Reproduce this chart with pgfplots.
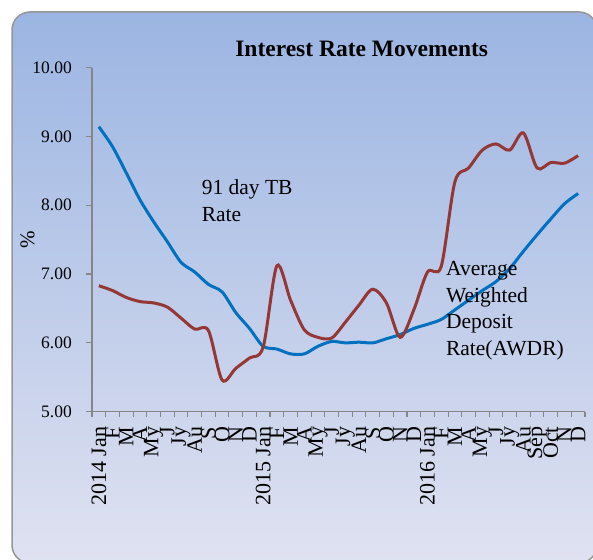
\documentclass[border=0pt]{standalone}
\usepackage{fontspec}
\setmainfont{Liberation Serif}
\usepackage{pgfplots}
\pgfplotsset{compat=1.18}
\definecolor{bgtop}{RGB}{155,181,226}
\definecolor{bgmid}{RGB}{232,187,189}
\definecolor{bgbot}{RGB}{224,226,241}
\definecolor{tbblue}{RGB}{0,112,192}
\definecolor{awred}{RGB}{149,55,53}
\definecolor{axgray}{RGB}{134,134,134}
\definecolor{framegray}{RGB}{150,150,150}
\begin{document}
\begin{tikzpicture}
\useasboundingbox (0pt,0pt) rectangle (593pt,-559pt);
\path[draw=framegray, line width=1.5pt, rounded corners=18pt,
  top color=bgtop, middle color=bgmid, bottom color=bgbot]
  (12pt,-12pt) rectangle (597pt,-563pt);
\node[anchor=base, font=\fontsize{23.5}{28}\selectfont\bfseries] at (361.7pt,-56.5pt) {Interest Rate Movements};
\begin{axis}[
  at={(92pt,-411.7pt)}, anchor=south west,
  scale only axis, width=493pt, height=344.2pt,
  xmin=-0.5, xmax=35.5, ymin=5, ymax=10,
  axis x line=bottom, axis y line=left,
  axis line style={-, draw=axgray, line width=1.3pt},
  tick align=outside,
  xtick={0,...,35},
  major x tick style={draw=none},
  minor xtick={-0.5,0.5,...,35.5},
  minor x tick style={draw=axgray, line width=1.1pt},
  minor tick length=5pt,
  ytick={5,6,7,8,9,10},
  major y tick style={draw=axgray, line width=1.1pt},
  major tick length=6pt,
  xticklabels={2014 Jan,F,M,A,My,J,Jy,Au,S,O,N,D,2015 Jan,F,M,A,My,J,Jy,Au,S,O,N,D,2016 Jan,F,M,A,My,J,Jy,Au,Sep,Oct,N,D},
  xticklabel style={rotate=90, anchor=east, font=\fontsize{22}{25}\selectfont, inner sep=2pt, xshift=-7pt},
  yticklabel style={font=\fontsize{17.5}{21}\selectfont, inner sep=2pt, xshift=-12pt},
  /pgf/number format/assume math mode=true,
  yticklabel={\pgfmathprintnumber[fixed, fixed zerofill, precision=2]{\tick}},
  ylabel={\%},
  every axis y label/.style={at={(axis description cs:-0.131,0.5)}, rotate=90, anchor=center, font=\fontsize{21}{24}\selectfont},
  clip=false,
]
\addplot[tbblue, line width=3pt, smooth, tension=0.5] coordinates {
(0,9.14)(1,8.85)(2,8.47)(3,8.08)(4,7.76)(5,7.47)(6,7.17)(7,7.03)(8,6.85)(9,6.74)(10,6.44)(11,6.21)
(12,5.95)(13,5.91)(14,5.84)(15,5.84)(16,5.95)(17,6.02)(18,6.00)(19,6.01)(20,6.00)(21,6.06)(22,6.12)(23,6.21)
(24,6.27)(25,6.34)(26,6.48)(27,6.62)(28,6.76)(29,6.89)(30,7.08)(31,7.33)(32,7.57)(33,7.80)(34,8.02)(35,8.17)
};
\addplot[awred, line width=3pt, smooth, tension=0.5] coordinates {
(0,6.83)(1,6.76)(2,6.66)(3,6.60)(4,6.58)(5,6.52)(6,6.36)(7,6.20)(8,6.18)(9,5.46)(10,5.63)(11,5.78)
(12,5.94)(13,7.12)(14,6.62)(15,6.19)(16,6.08)(17,6.07)(18,6.30)(19,6.55)(20,6.78)(21,6.58)(22,6.08)(23,6.48)
(24,7.03)(25,7.11)(26,8.34)(27,8.54)(28,8.80)(29,8.89)(30,8.80)(31,9.05)(32,8.54)(33,8.62)(34,8.61)(35,8.72)
};
\node[anchor=north west, inner sep=0pt, align=left, font=\fontsize{21.5}{26.7}\selectfont] at (axis cs:7.5,8.37) {91 day TB\\Rate};
\node[anchor=north west, inner sep=0pt, align=left, font=\fontsize{21.5}{26.7}\selectfont] at (axis cs:25.34,7.19) {Average\\Weighted\\Deposit\\Rate(AWDR)};
\end{axis}
\end{tikzpicture}
\end{document}
